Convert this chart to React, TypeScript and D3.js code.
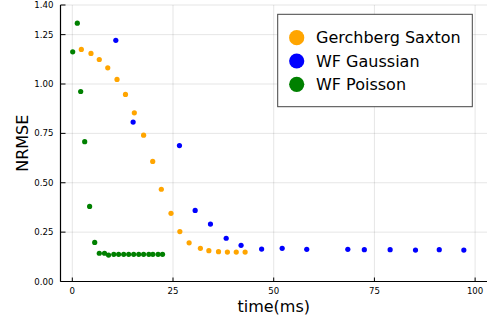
import React from "react";
import * as d3 from "d3";

const gsTime = [2.24, 4.64, 6.7, 8.8, 11.1, 13.2, 15.4, 17.7, 19.96, 22.1, 24.5, 26.7, 29.0, 31.8, 33.9, 36.3, 38.5, 40.7, 42.9];
const gsNrmse = [1.175, 1.155, 1.124, 1.082, 1.023, 0.947, 0.854, 0.741, 0.608, 0.467, 0.345, 0.253, 0.196, 0.168, 0.156, 0.151, 0.149, 0.149, 0.149];

const wfgTime = [10.8, 15.1, 26.6, 30.5, 34.3, 38.2, 41.9, 47.0, 52.1, 58.2, 68.4, 72.5, 78.9, 85.2, 91.1, 97.2];
const wfgNrmse = [1.221, 0.807, 0.688, 0.36, 0.291, 0.219, 0.183, 0.164, 0.168, 0.163, 0.163, 0.161, 0.161, 0.159, 0.161, 0.159];

const wfpTime = [0.1, 1.24, 2.08, 3.08, 4.3, 5.56, 6.7, 8.0, 9.0, 10.3, 11.5, 12.76, 14.0, 15.24, 16.5, 17.7, 19.0, 20.0, 21.3, 22.4];
const wfpNrmse = [1.163, 1.308, 0.962, 0.708, 0.38, 0.198, 0.143, 0.143, 0.134, 0.1375, 0.1375, 0.1375, 0.1375, 0.1375, 0.1375, 0.1375, 0.1375, 0.1375, 0.1375, 0.1375];

const seriesNames = ["Gerchberg Saxton", "WF Gaussian", "WF Poisson"];
const seriesColors = ["#FFA500", "#0000FF", "#008000"];

const xTicks = [0, 25, 50, 75, 100];
const yTicks = [0, 0.25, 0.5, 0.75, 1.0, 1.25, 1.4];

const W = 489;
const H = 321;
const FONT = "DejaVu Sans, sans-serif";

export default function App() {
  const x = d3.scaleLinear().domain([-2.93, 102.95]).range([60.5, 487]);
  const y = d3.scaleLinear().domain([0, 1.4]).range([281.5, 5]);
  const series = [
    { t: gsTime, v: gsNrmse },
    { t: wfgTime, v: wfgNrmse },
    { t: wfpTime, v: wfpNrmse },
  ];
  const fmt = d3.format(".2f");
  const [x0, x1] = x.range();
  const [y0, y1] = y.range();

  return (
    <svg width={W} height={H} style={{ position: "absolute", left: 0, top: 0, background: "#fff" }} fontFamily={FONT}>
      <rect x={0} y={0} width={W} height={H} fill="#fff" />
      {/* grid */}
      {xTicks.map((t) => (
        <line key={"gx" + t} x1={x(t)} x2={x(t)} y1={y0} y2={y1} stroke="#000" strokeOpacity={0.1} strokeWidth={1} />
      ))}
      {yTicks.map((t) => (
        <line key={"gy" + t} x1={x0} x2={x1} y1={y(t)} y2={y(t)} stroke="#000" strokeOpacity={0.1} strokeWidth={1} />
      ))}
      {/* axes */}
      <line x1={x0} x2={x1} y1={y0} y2={y0} stroke="#000" strokeWidth={1.2} />
      <line x1={x0} x2={x0} y1={y0} y2={y1} stroke="#000" strokeWidth={1.2} />
      {xTicks.map((t) => (
        <g key={"xt" + t}>
          <line x1={x(t)} x2={x(t)} y1={y0} y2={y0 - 4} stroke="#000" strokeWidth={1} />
          <text x={x(t)} y={293.5} fontSize={8.6} textAnchor="middle" fill="#000">{t}</text>
        </g>
      ))}
      {yTicks.map((t) => (
        <g key={"yt" + t}>
          <line x1={x0} x2={x0 + 5} y1={y(t)} y2={y(t)} stroke="#000" strokeWidth={1} />
          <text x={53.5} y={y(t)} dy="0.35em" fontSize={8.6} textAnchor="end" fill="#000">{fmt(t)}</text>
        </g>
      ))}
      {/* labels */}
      <text x={(x0 + x1) / 2} y={312} fontSize={16} textAnchor="middle" fill="#000">time(ms)</text>
      <text transform={`translate(28,${(y0 + y1) / 2}) rotate(-90)`} fontSize={16} textAnchor="middle" fill="#000">NRMSE</text>
      {/* points */}
      {series.map((s, i) => (
        <g key={"s" + i}>
          {s.t.map((tv, j) => (
            <circle key={j} cx={x(tv)} cy={y(s.v[j])} r={2.6} fill={seriesColors[i]} />
          ))}
        </g>
      ))}
      {/* legend */}
      <rect x={277.7} y={14.3} width={194.6} height={92.4} fill="#fff" stroke="#444" strokeWidth={1} />
      {seriesNames.map((n, i) => (
        <g key={"l" + i}>
          <circle cx={296.7} cy={37.7 + i * 23.3} r={7.6} fill={seriesColors[i]} />
          <text x={316} y={37.7 + i * 23.3} dy="0.36em" fontSize={16} fill="#000">{n}</text>
        </g>
      ))}
    </svg>
  );
}
